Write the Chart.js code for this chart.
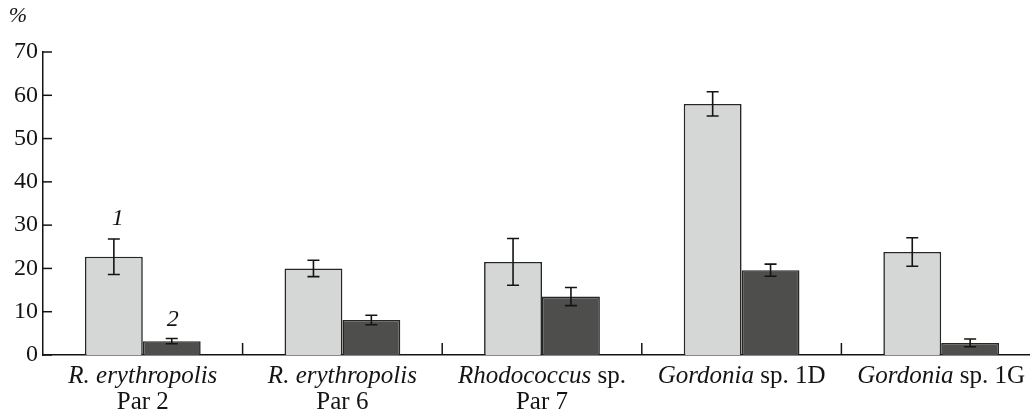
<!DOCTYPE html>
<html>
<head>
<meta charset="utf-8">
<script src="https://cdn.jsdelivr.net/npm/chart.js@4.4.0/dist/chart.umd.min.js"></script>
<style>
  html, body { margin: 0; padding: 0; background: #fff; overflow: hidden; }
  #wrap { width: 1041px; height: 417px; }
</style>
</head>
<body>
<div id="wrap"><canvas id="barChart" width="1041" height="417"></canvas></div>
<script>
//Datos del gráfico
var speciesNames = ['R. erythropolis', 'R. erythropolis', 'Rhodococcus', 'Gordonia', 'Gordonia'];
var speciesSuffix = ['', '', ' sp.', ' sp. 1D', ' sp. 1G'];
var strainNames = ['Par 2', 'Par 6', 'Par 7', '', ''];
var categories = speciesNames.map(function(n, i) {
    return (n + speciesSuffix[i] + ' ' + strainNames[i]).trim();
});

var series1 = [22.7, 20.0, 21.5, 58.0, 23.8];
var series1Err = [4.1, 1.9, 5.4, 2.8, 3.3];
var series2 = [3.2, 8.1, 13.5, 19.6, 2.8];
var series2Err = [0.6, 1.1, 2.1, 1.4, 0.9];
var seriesLabels = ['1', '2'];
var yTicks = [0, 10, 20, 30, 40, 50, 60, 70];

var serif = '"Liberation Serif", "Times New Roman", serif';
var ink = '#141414';

//Barras de error, marcas del eje y etiquetas
var extrasPlugin = {
    id: 'extras',
    afterDatasetsDraw: function(chart) {
        var ctx = chart.ctx;
        var y = chart.scales.y;
        var errs = [series1Err, series2Err];
        var vals = [series1, series2];
        ctx.save();
        ctx.strokeStyle = ink;
        ctx.lineWidth = 1.6;
        chart.data.datasets.forEach(function(ds, d) {
            chart.getDatasetMeta(d).data.forEach(function(bar, i) {
                var top = y.getPixelForValue(vals[d][i] + errs[d][i]);
                var bot = y.getPixelForValue(vals[d][i] - errs[d][i]);
                ctx.beginPath();
                ctx.moveTo(bar.x, top); ctx.lineTo(bar.x, bot);
                ctx.moveTo(bar.x - 6, top); ctx.lineTo(bar.x + 6, top);
                ctx.moveTo(bar.x - 6, bot); ctx.lineTo(bar.x + 6, bot);
                ctx.stroke();
            });
        });
        ctx.restore();
    },
    afterDraw: function(chart) {
        var ctx = chart.ctx;
        var x = chart.scales.x;
        var y = chart.scales.y;
        var area = chart.chartArea;
        ctx.save();
        ctx.strokeStyle = ink;
        ctx.lineWidth = 1.5;
        //marcas hacia dentro en el eje Y
        yTicks.forEach(function(v) {
            var py = y.getPixelForValue(v);
            ctx.beginPath();
            ctx.moveTo(area.left, py); ctx.lineTo(area.left + 9, py);
            ctx.stroke();
        });
        //separadores entre categorías
        for (var i = 0; i < categories.length - 1; i++) {
            var px = (x.getPixelForValue(i) + x.getPixelForValue(i + 1)) / 2;
            ctx.beginPath();
            ctx.moveTo(px, area.bottom); ctx.lineTo(px, area.bottom - 12);
            ctx.stroke();
        }
        ctx.fillStyle = ink;
        ctx.textBaseline = 'alphabetic';
        //etiquetas de categorías
        categories.forEach(function(c, i) {
            var cx = x.getPixelForValue(i);
            ctx.font = 'italic 25px ' + serif;
            var w1 = ctx.measureText(speciesNames[i]).width;
            ctx.font = '25px ' + serif;
            var w2 = ctx.measureText(speciesSuffix[i]).width;
            var start = cx - (w1 + w2) / 2;
            ctx.textAlign = 'left';
            ctx.font = 'italic 25px ' + serif;
            ctx.fillText(speciesNames[i], start, area.bottom + 28);
            ctx.font = '25px ' + serif;
            ctx.fillText(speciesSuffix[i], start + w1, area.bottom + 28);
            if (strainNames[i]) {
                ctx.textAlign = 'center';
                ctx.fillText(strainNames[i], cx, area.bottom + 54);
            }
        });
        //números de las series
        ctx.textAlign = 'center';
        ctx.font = 'italic 24px ' + serif;
        var b1 = chart.getDatasetMeta(0).data[0];
        var b2 = chart.getDatasetMeta(1).data[0];
        ctx.fillText(seriesLabels[0], b1.x + 4, y.getPixelForValue(series1[0] + series1Err[0]) - 14);
        ctx.fillText(seriesLabels[1], b2.x + 1, y.getPixelForValue(series2[0] + series2Err[0]) - 13);
        //unidad
        ctx.font = 'italic 22px ' + serif;
        ctx.fillText('%', 18, 22);
        ctx.restore();
    }
};

var data = {
    labels: categories,
    datasets: [{
        label: seriesLabels[0],
        data: series1,
        backgroundColor: '#d5d7d6',
        borderColor: '#262626',
        borderWidth: 1.6,
        categoryPercentage: 0.58,
        barPercentage: 1.0
    }, {
        label: seriesLabels[1],
        data: series2,
        backgroundColor: '#4e4e4c',
        borderColor: '#262626',
        borderWidth: 1.6,
        categoryPercentage: 0.58,
        barPercentage: 1.0
    }]
};

var options = {
    responsive: false,
    animation: false,
    layout: { padding: { top: 52, right: 0, left: 0, bottom: 0 } },
    plugins: { legend: { display: false }, tooltip: { enabled: false } },
    scales: {
        x: {
            grid: { display: false },
            border: { color: ink, width: 1.5 },
            ticks: { display: false },
            afterFit: function(scale) { scale.height = 62; }
        },
        y: {
            min: 0,
            max: 70,
            afterBuildTicks: function(scale) {
                scale.ticks = yTicks.map(function(v) { return { value: v }; });
            },
            grid: { display: false, drawTicks: false },
            border: { color: ink, width: 1.5 },
            ticks: {
                color: ink,
                padding: 5,
                font: { family: serif, size: 24 }
            },
            afterFit: function(scale) { scale.width = 43; }
        }
    }
};

var ctx = document.getElementById('barChart').getContext('2d');
var myBarChart = new Chart(ctx, {
    type: 'bar',
    data: data,
    options: options,
    plugins: [extrasPlugin]
});
</script>
</body>
</html>
